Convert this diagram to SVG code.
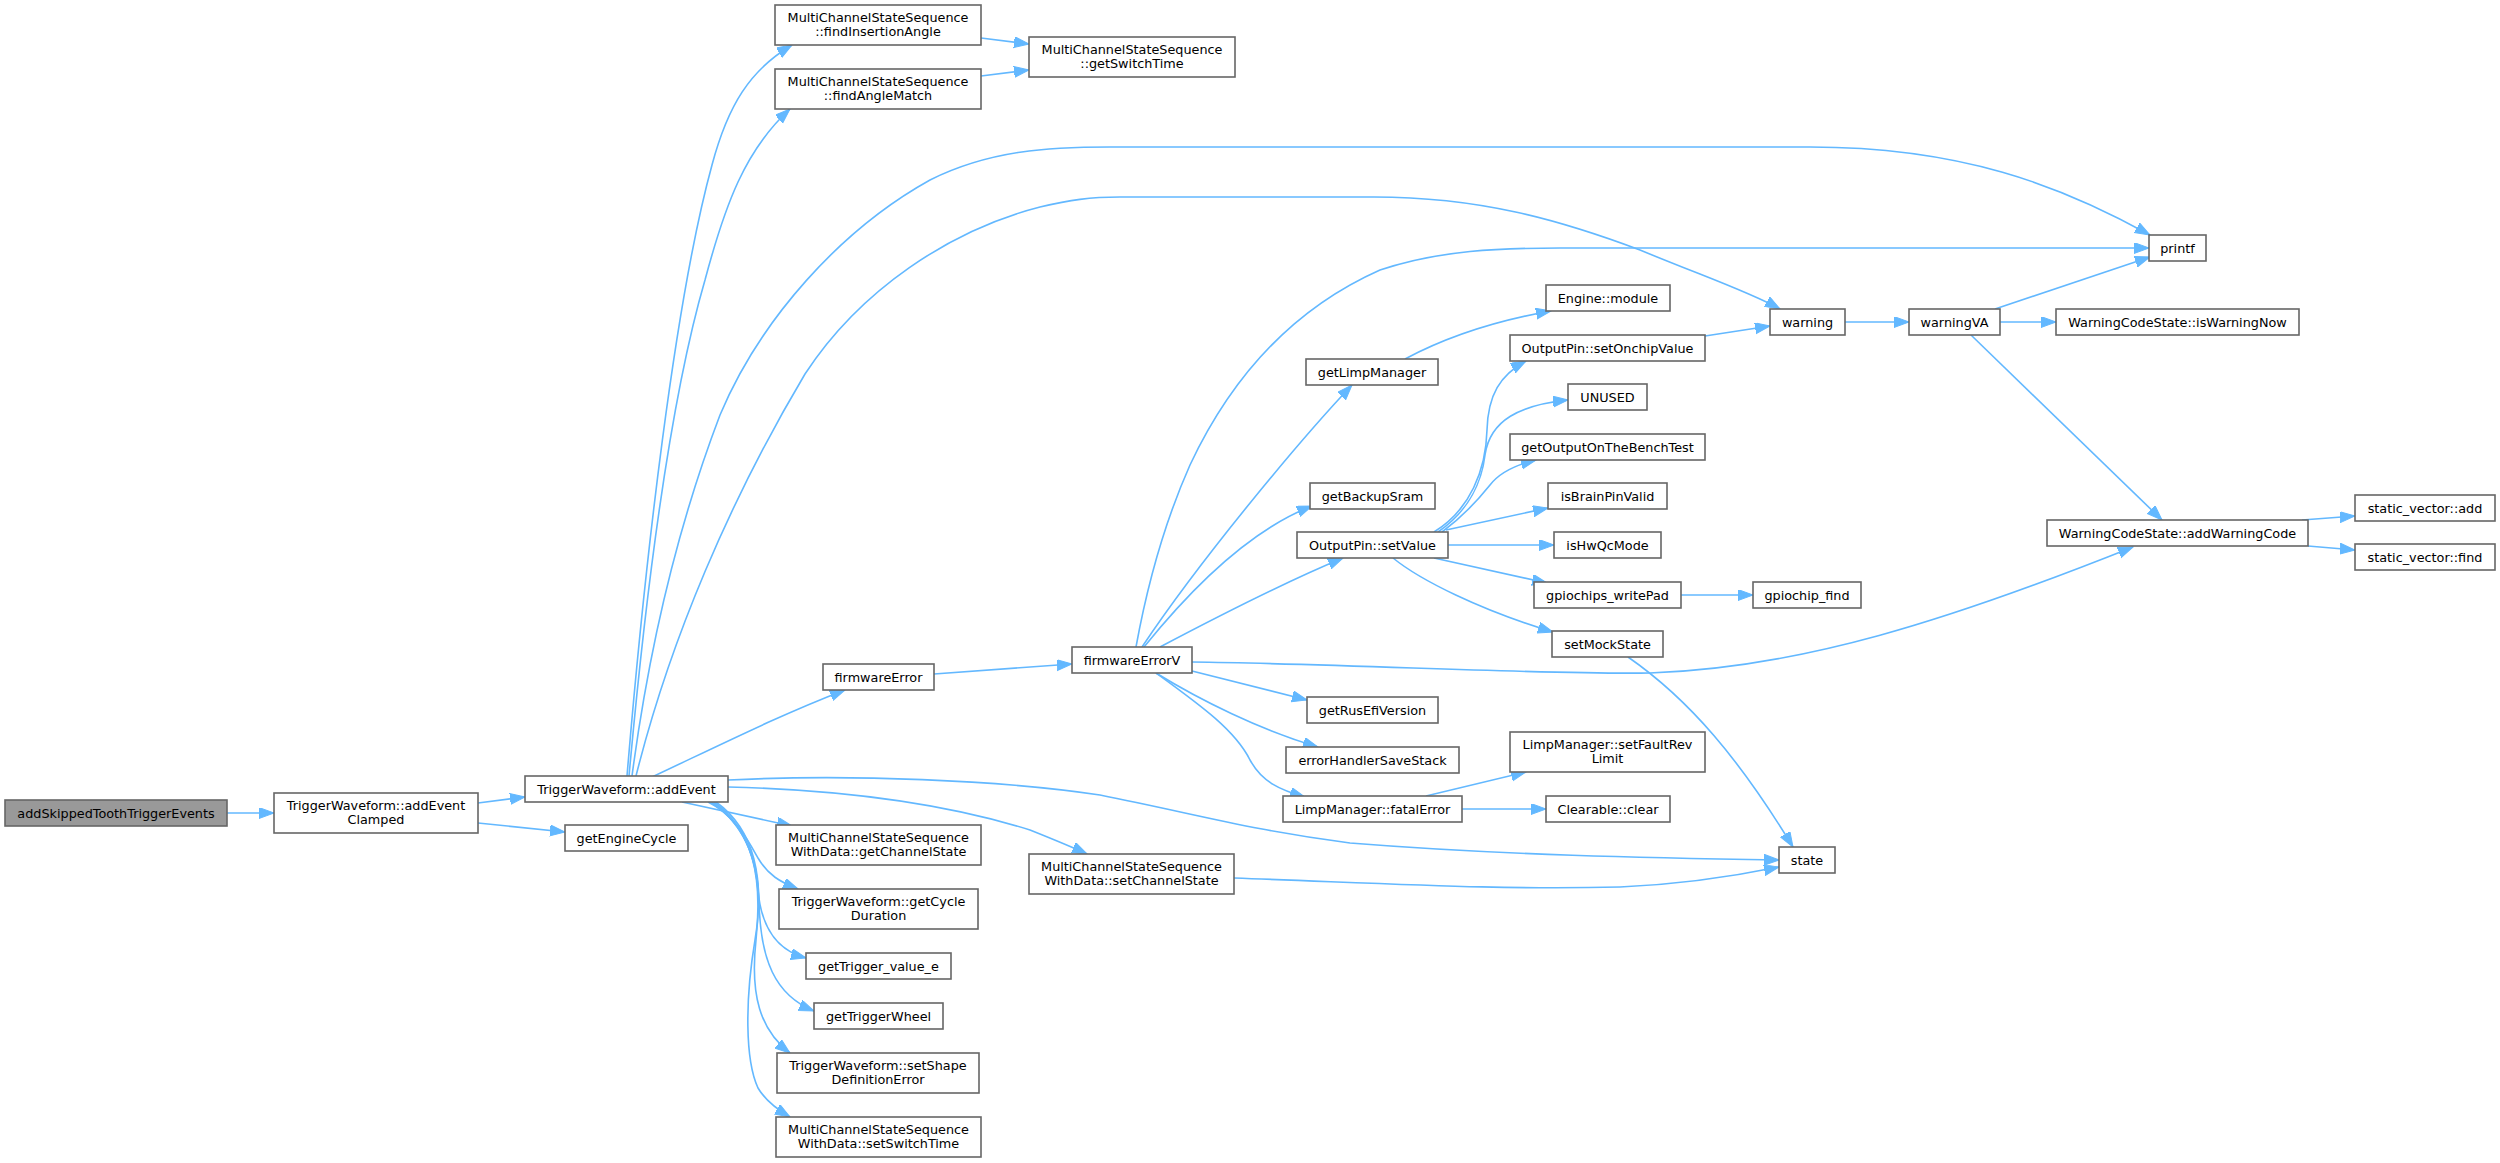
<svg xmlns="http://www.w3.org/2000/svg" width="2500" height="1163" viewBox="0 0 2500 1163">
<style>
.n rect{fill:#fff;stroke:#666;stroke-width:1.6}
.root rect{fill:#999}
text{font-family:"DejaVu Sans","Liberation Sans",sans-serif;font-size:12.8px;text-anchor:middle;fill:#000}
.e path{fill:none;stroke:#63b8ff;stroke-width:1.6;marker-end:url(#a)}
</style>
<defs>
<marker id="a" markerUnits="userSpaceOnUse" markerWidth="16" markerHeight="12" refX="15" refY="5.5" orient="auto">
<path d="M0,0 L15,5.5 L0,11 z" fill="#63b8ff" stroke="#63b8ff" stroke-width="1"/>
</marker>
</defs>
<rect width="2500" height="1163" fill="#fff"/>
<g id="edges" class="e">
<path d="M227,813 L274,813"/>
<path d="M478,803 L525,797"/>
<path d="M478,823 L565,832"/>
<path d="M627,776 C645,560 675,300 712,165 C728,105 750,70 792,45"/>
<path d="M629,776 C645,600 670,400 705,280 C725,205 745,150 790,109"/>
<path d="M632,776 C650,640 680,520 720,415 C760,320 840,230 930,180 C990,150 1050,147 1110,147 L1810,147 C1960,147 2060,185 2150,235"/>
<path d="M636,776 C670,640 730,500 805,374 C860,290 950,230 1040,207 C1070,200 1090,197 1120,197 L1374,197 C1480,197 1560,220 1640,250 C1700,275 1750,292 1780,309"/>
<path d="M652,777 C720,745 780,715 845,690"/>
<path d="M682,802 L792,826"/>
<path d="M708,802 C735,815 748,840 758,858 C768,875 780,882 798,889"/>
<path d="M710,802 C740,820 755,850 758,890 C761,925 775,950 806,958"/>
<path d="M712,802 C745,825 758,860 759,900 C760,960 775,995 814,1011"/>
<path d="M714,802 C752,830 763,875 756,940 C750,995 760,1030 790,1053"/>
<path d="M716,802 C755,830 765,880 755,940 C745,1000 745,1060 758,1088 C765,1100 775,1108 790,1117"/>
<path d="M728,780 C850,774 1000,780 1100,795 C1200,815 1250,830 1350,843 C1500,855 1650,858 1779,860"/>
<path d="M728,787 C850,790 950,805 1030,830 C1050,838 1070,846 1087,854"/>
<path d="M1234,878 C1400,884 1500,890 1620,887 C1690,884 1740,875 1779,867"/>
<path d="M981,38 L1029,44"/>
<path d="M981,76 L1029,70"/>
<path d="M934,674 L1072,664"/>
<path d="M1136,647 C1150,570 1170,510 1190,465 C1230,380 1290,310 1380,270 C1440,250 1500,248 1560,248 L2149,248"/>
<path d="M1142,647 C1200,560 1300,440 1352,385"/>
<path d="M1144,647 C1190,590 1250,530 1312,506"/>
<path d="M1160,647 C1230,610 1290,580 1343,558"/>
<path d="M1192,671 L1307,700"/>
<path d="M1156,673 C1200,700 1260,730 1318,747"/>
<path d="M1156,673 C1200,705 1235,730 1250,760 C1262,782 1280,790 1305,797"/>
<path d="M1192,662 C1350,664 1550,675 1650,673 C1800,668 1950,620 2133,547"/>
<path d="M1405,359 C1450,335 1500,320 1551,311"/>
<path d="M1705,336 L1770,326"/>
<path d="M1434,532 C1470,510 1486,470 1487,430 C1488,395 1500,375 1526,361"/>
<path d="M1438,532 C1470,510 1482,480 1485,455 C1490,420 1520,405 1568,400"/>
<path d="M1442,532 C1465,515 1478,500 1490,485 C1500,472 1515,465 1536,460"/>
<path d="M1446,530 L1548,508"/>
<path d="M1448,545 L1554,545"/>
<path d="M1434,558 L1547,583"/>
<path d="M1393,558 C1420,580 1480,610 1553,632"/>
<path d="M1681,595 L1753,595"/>
<path d="M1628,657 C1690,700 1740,760 1793,847"/>
<path d="M1426,796 L1526,772"/>
<path d="M1462,809 L1546,809"/>
<path d="M1845,322 L1909,322"/>
<path d="M1995,309 L2150,257"/>
<path d="M2000,322 L2056,322"/>
<path d="M1971,335 L2162,520"/>
<path d="M2302,520 L2355,516"/>
<path d="M2308,546 L2355,550"/>
</g>
<g id="n_addSkippedToothTriggerEvents" class="n root"><rect x="5" y="800" width="222" height="26"/><text x="116" y="817.5">addSkippedToothTriggerEvents</text></g>
<g id="n_addEventClamped" class="n"><rect x="274" y="793" width="204" height="40"/><text x="376" y="810">TriggerWaveform::addEvent</text><text x="376" y="824">Clamped</text></g>
<g id="n_getEngineCycle" class="n"><rect x="565" y="825" width="123" height="26"/><text x="626.5" y="842.5">getEngineCycle</text></g>
<g id="n_addEvent" class="n"><rect x="525" y="776" width="203" height="26"/><text x="626.5" y="793.5">TriggerWaveform::addEvent</text></g>
<g id="n_findInsertionAngle" class="n"><rect x="775" y="5" width="206" height="40"/><text x="878" y="22">MultiChannelStateSequence</text><text x="878" y="36">::findInsertionAngle</text></g>
<g id="n_findAngleMatch" class="n"><rect x="775" y="69" width="206" height="40"/><text x="878" y="86">MultiChannelStateSequence</text><text x="878" y="100">::findAngleMatch</text></g>
<g id="n_getSwitchTime" class="n"><rect x="1029" y="37" width="206" height="40"/><text x="1132" y="54">MultiChannelStateSequence</text><text x="1132" y="68">::getSwitchTime</text></g>
<g id="n_getChannelState" class="n"><rect x="776" y="825" width="205" height="40"/><text x="878.5" y="842">MultiChannelStateSequence</text><text x="878.5" y="856">WithData::getChannelState</text></g>
<g id="n_getCycleDuration" class="n"><rect x="779" y="889" width="199" height="40"/><text x="878.5" y="906">TriggerWaveform::getCycle</text><text x="878.5" y="920">Duration</text></g>
<g id="n_getTrigger_value_e" class="n"><rect x="806" y="953" width="145" height="26"/><text x="878.5" y="970.5">getTrigger_value_e</text></g>
<g id="n_getTriggerWheel" class="n"><rect x="814" y="1003" width="129" height="26"/><text x="878.5" y="1020.5">getTriggerWheel</text></g>
<g id="n_setShapeDefinitionError" class="n"><rect x="777" y="1053" width="202" height="40"/><text x="878" y="1070">TriggerWaveform::setShape</text><text x="878" y="1084">DefinitionError</text></g>
<g id="n_setSwitchTime" class="n"><rect x="776" y="1117" width="205" height="40"/><text x="878.5" y="1134">MultiChannelStateSequence</text><text x="878.5" y="1148">WithData::setSwitchTime</text></g>
<g id="n_firmwareError" class="n"><rect x="823" y="664" width="111" height="26"/><text x="878.5" y="681.5">firmwareError</text></g>
<g id="n_setChannelState" class="n"><rect x="1029" y="854" width="205" height="40"/><text x="1131.5" y="871">MultiChannelStateSequence</text><text x="1131.5" y="885">WithData::setChannelState</text></g>
<g id="n_firmwareErrorV" class="n"><rect x="1072" y="647" width="120" height="26"/><text x="1132" y="664.5">firmwareErrorV</text></g>
<g id="n_getLimpManager" class="n"><rect x="1306" y="359" width="132" height="26"/><text x="1372" y="376.5">getLimpManager</text></g>
<g id="n_getBackupSram" class="n"><rect x="1310" y="483" width="125" height="26"/><text x="1372.5" y="500.5">getBackupSram</text></g>
<g id="n_setValue" class="n"><rect x="1297" y="532" width="151" height="26"/><text x="1372.5" y="549.5">OutputPin::setValue</text></g>
<g id="n_getRusEfiVersion" class="n"><rect x="1307" y="697" width="131" height="26"/><text x="1372.5" y="714.5">getRusEfiVersion</text></g>
<g id="n_errorHandlerSaveStack" class="n"><rect x="1286" y="747" width="173" height="26"/><text x="1372.5" y="764.5">errorHandlerSaveStack</text></g>
<g id="n_fatalError" class="n"><rect x="1283" y="796" width="179" height="26"/><text x="1372.5" y="813.5">LimpManager::fatalError</text></g>
<g id="n_EngineModule" class="n"><rect x="1546" y="285" width="124" height="26"/><text x="1608" y="302.5">Engine::module</text></g>
<g id="n_setOnchipValue" class="n"><rect x="1510" y="335" width="195" height="26"/><text x="1607.5" y="352.5">OutputPin::setOnchipValue</text></g>
<g id="n_UNUSED" class="n"><rect x="1568" y="384" width="79" height="26"/><text x="1607.5" y="401.5">UNUSED</text></g>
<g id="n_getOutputOnTheBenchTest" class="n"><rect x="1510" y="434" width="195" height="26"/><text x="1607.5" y="451.5">getOutputOnTheBenchTest</text></g>
<g id="n_isBrainPinValid" class="n"><rect x="1548" y="483" width="119" height="26"/><text x="1607.5" y="500.5">isBrainPinValid</text></g>
<g id="n_isHwQcMode" class="n"><rect x="1554" y="532" width="107" height="26"/><text x="1607.5" y="549.5">isHwQcMode</text></g>
<g id="n_gpiochips_writePad" class="n"><rect x="1534" y="582" width="147" height="26"/><text x="1607.5" y="599.5">gpiochips_writePad</text></g>
<g id="n_setMockState" class="n"><rect x="1552" y="631" width="111" height="26"/><text x="1607.5" y="648.5">setMockState</text></g>
<g id="n_setFaultRevLimit" class="n"><rect x="1510" y="732" width="195" height="40"/><text x="1607.5" y="749">LimpManager::setFaultRev</text><text x="1607.5" y="763">Limit</text></g>
<g id="n_clear" class="n"><rect x="1546" y="796" width="124" height="26"/><text x="1608" y="813.5">Clearable::clear</text></g>
<g id="n_warning" class="n"><rect x="1770" y="309" width="75" height="26"/><text x="1807.5" y="326.5">warning</text></g>
<g id="n_gpiochip_find" class="n"><rect x="1753" y="582" width="108" height="26"/><text x="1807" y="599.5">gpiochip_find</text></g>
<g id="n_state" class="n"><rect x="1779" y="847" width="56" height="26"/><text x="1807" y="864.5">state</text></g>
<g id="n_warningVA" class="n"><rect x="1909" y="309" width="91" height="26"/><text x="1954.5" y="326.5">warningVA</text></g>
<g id="n_printf" class="n"><rect x="2149" y="235" width="57" height="26"/><text x="2177.5" y="252.5">printf</text></g>
<g id="n_isWarningNow" class="n"><rect x="2056" y="309" width="243" height="26"/><text x="2177.5" y="326.5">WarningCodeState::isWarningNow</text></g>
<g id="n_addWarningCode" class="n"><rect x="2047" y="520" width="261" height="26"/><text x="2177.5" y="537.5">WarningCodeState::addWarningCode</text></g>
<g id="n_static_vector_add" class="n"><rect x="2355" y="495" width="140" height="26"/><text x="2425" y="512.5">static_vector::add</text></g>
<g id="n_static_vector_find" class="n"><rect x="2355" y="544" width="140" height="26"/><text x="2425" y="561.5">static_vector::find</text></g>
</svg>
